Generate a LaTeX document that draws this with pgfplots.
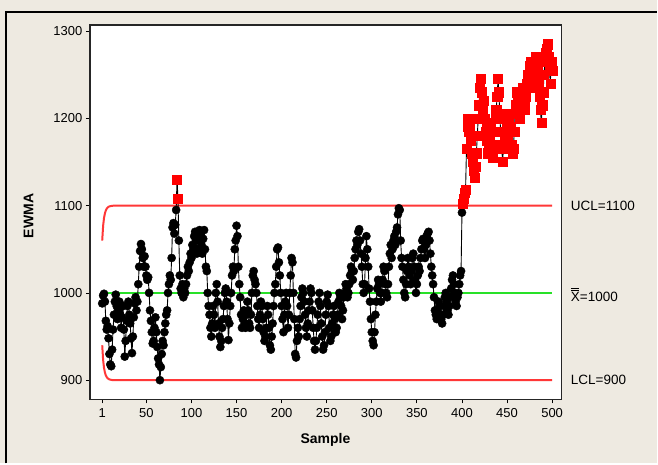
\documentclass[border=0pt]{standalone}
\usepackage{pgfplots}
\pgfplotsset{compat=1.18}
\usepackage{pgfplotstable}
\usepackage{fontspec}
\setmainfont{Liberation Sans}
\definecolor{bg}{RGB}{238,234,225}
\definecolor{lim}{RGB}{255,55,55}
\definecolor{ctr}{RGB}{40,225,40}
\definecolor{mk}{RGB}{255,0,0}
\newcommand\Xbb{\hbox{\rlap{\raisebox{10.6pt}{\rule{8.2pt}{0.8pt}}}\rlap{\raisebox{12.6pt}{\rule{8.2pt}{0.8pt}}}X}}
\pgfplotstableread[row sep=\\]{
v\\
988\\997\\999\\990\\968\\958\\962\\948\\930\\918\\
916\\935\\958\\975\\990\\998\\985\\970\\980\\990\\
975\\960\\972\\985\\958\\927\\945\\968\\985\\990\\
975\\965\\948\\931\\950\\972\\988\\995\\980\\990\\
1010\\1030\\1048\\1056\\1050\\1040\\1030\\1042\\1030\\1020\\
1015\\1018\\1000\\980\\968\\955\\942\\945\\960\\972\\
955\\938\\925\\918\\900\\915\\930\\945\\940\\955\\
965\\975\\980\\1000\\1010\\1020\\1015\\1040\\1075\\1080\\
1068\\1078\\1095\\1130\\1108\\1060\\1020\\1005\\1000\\1010\\
995\\1005\\1000\\1010\\1020\\1030\\1025\\1035\\1045\\1040\\
1055\\1050\\1065\\1070\\1060\\1045\\1050\\1062\\1072\\1068\\
1055\\1045\\1062\\1072\\1050\\1030\\1025\\1000\\985\\975\\
960\\950\\965\\985\\975\\960\\1000\\1010\\990\\965\\
950\\938\\945\\960\\970\\985\\1000\\1005\\990\\970\\
946\\965\\985\\1000\\1020\\1030\\1025\\1050\\1060\\1077\\
1065\\1030\\1010\\995\\975\\960\\970\\980\\965\\960\\
975\\990\\980\\965\\960\\975\\1000\\1020\\1025\\1015\\
1010\\1000\\985\\970\\960\\975\\990\\985\\970\\955\\
945\\950\\960\\985\\975\\960\\940\\935\\950\\965\\
985\\1000\\1010\\1030\\1050\\1052\\1035\\1020\\1000\\985\\
970\\955\\975\\990\\1000\\985\\960\\975\\1000\\1020\\
1040\\1035\\1000\\970\\930\\926\\945\\960\\950\\970\\
985\\995\\1005\\1000\\990\\975\\960\\950\\965\\980\\
990\\1005\\1000\\980\\960\\945\\935\\945\\960\\975\\
990\\1000\\985\\965\\950\\935\\940\\955\\975\\990\\
998\\985\\960\\945\\950\\965\\975\\985\\970\\955\\
960\\975\\990\\1000\\995\\985\\970\\980\\995\\1000\\
1010\\1005\\995\\1000\\1010\\1020\\1030\\1025\\1015\\1025\\
1040\\1050\\1060\\1055\\1070\\1073\\1060\\1045\\1030\\1010\\
1000\\1010\\1040\\1065\\1050\\1030\\1005\\990\\970\\955\\
945\\940\\955\\975\\990\\1005\\1015\\1010\\1000\\990\\
1000\\1015\\1030\\1025\\1010\\1000\\995\\1010\\1030\\1045\\
1055\\1040\\1050\\1060\\1065\\1055\\1070\\1075\\1090\\1097\\
1095\\1060\\1040\\1030\\1015\\1000\\995\\1010\\1025\\1040\\
1030\\1020\\1010\\1025\\1040\\1045\\1030\\1015\\1000\\1010\\
1020\\1030\\1025\\1040\\1050\\1060\\1062\\1050\\1040\\1055\\
1065\\1068\\1070\\1060\\1045\\1030\\1020\\1010\\995\\980\\
975\\970\\980\\990\\985\\975\\970\\965\\975\\985\\
995\\1000\\990\\980\\975\\985\\995\\1005\\1015\\1020\\
1010\\1000\\990\\985\\995\\1000\\1010\\1020\\1025\\1092\\
1102\\1108\\1115\\1118\\1165\\1190\\1200\\1185\\1195\\1175\\
1160\\1150\\1140\\1132\\1145\\1160\\1180\\1200\\1215\\1235\\
1245\\1230\\1210\\1220\\1200\\1185\\1195\\1175\\1160\\1170\\
1180\\1190\\1170\\1155\\1165\\1185\\1200\\1210\\1225\\1245\\
1230\\1200\\1185\\1170\\1150\\1165\\1180\\1200\\1205\\1190\\
1175\\1195\\1205\\1190\\1170\\1160\\1165\\1185\\1205\\1215\\
1230\\1220\\1210\\1200\\1215\\1230\\1225\\1235\\1220\\1210\\
1225\\1240\\1250\\1245\\1260\\1265\\1250\\1240\\1235\\1250\\
1260\\1270\\1265\\1255\\1240\\1225\\1210\\1195\\1215\\1230\\
1250\\1265\\1275\\1280\\1285\\1270\\1255\\1240\\1265\\1255\\
}\ewma
\begin{document}
\begin{tikzpicture}[x=1pt,y=1pt]
\fill[bg] (0,0) rectangle (658,464);
\draw[line width=2pt] (6,0) -- (6,452) -- (658,452);
\begin{axis}[
  at={(90pt,64pt)}, anchor=south west, scale only axis,
  width=472pt, height=375pt,
  xmin=-12.7, xmax=510, ymin=878, ymax=1307,
  axis background/.style={fill=white},
  xtick={1,50,100,150,200,250,300,350,400,450,500},
  ytick={900,1000,1100,1200,1300},
  tick align=outside, xtick pos=bottom, ytick pos=left,
  major tick length=4pt,
  tick style={black, line width=0.8pt},
  axis line style={line width=1.3pt, black!85},
  ticklabel style={font=\fontsize{13}{14}\selectfont},
  xticklabel style={yshift=-2pt},
  /pgf/number format/assume math mode=true,
  /pgf/number format/set thousands separator={},
  xlabel={Sample}, ylabel={EWMA},
  label style={font=\bfseries\fontsize{14}{15}\selectfont},
  xlabel style={at={(axis description cs:0.5,-0.107)}, anchor=center},
  ylabel style={at={(axis description cs:-0.130,0.49)}, anchor=center},
  clip=false,
]
\addplot[lim, line width=2pt] coordinates {(1,1060) (2,1076.8) (3,1085.9) (4,1091.2) (5,1094.5) (6,1096.5) (7,1097.8) (8,1098.6) (9,1099.1) (10,1099.4) (12,1099.8) (15,1100) (500,1100)};
\addplot[lim, line width=2pt] coordinates {(1,940) (2,923.2) (3,914.1) (4,908.8) (5,905.5) (6,903.5) (7,902.2) (8,901.4) (9,900.9) (10,900.6) (12,900.2) (15,900) (500,900)};
\addplot[ctr, line width=2pt] coordinates {(1,1000) (500,1000)};
\addplot[only marks, mark=*, mark size=4.1pt, black, restrict y to domain=0:1100] table[x expr=\coordindex+1, y=v] {\ewma};
\addplot[only marks, mark=square*, mark size=4.6pt, mk, restrict y to domain=1100:2000] table[x expr=\coordindex+1, y=v] {\ewma};
\addplot[black, line width=0.9pt] table[x expr=\coordindex+1, y=v] {\ewma};
\node[anchor=west, font=\fontsize{13.5}{14}\selectfont] at (axis cs:517,1100) {UCL=1100};
\node[anchor=west, font=\fontsize{13.5}{14}\selectfont] at (axis cs:517,998) {\Xbb=1000};
\node[anchor=west, font=\fontsize{13.5}{14}\selectfont] at (axis cs:517,900) {LCL=900};
\end{axis}
\end{tikzpicture}
\end{document}
